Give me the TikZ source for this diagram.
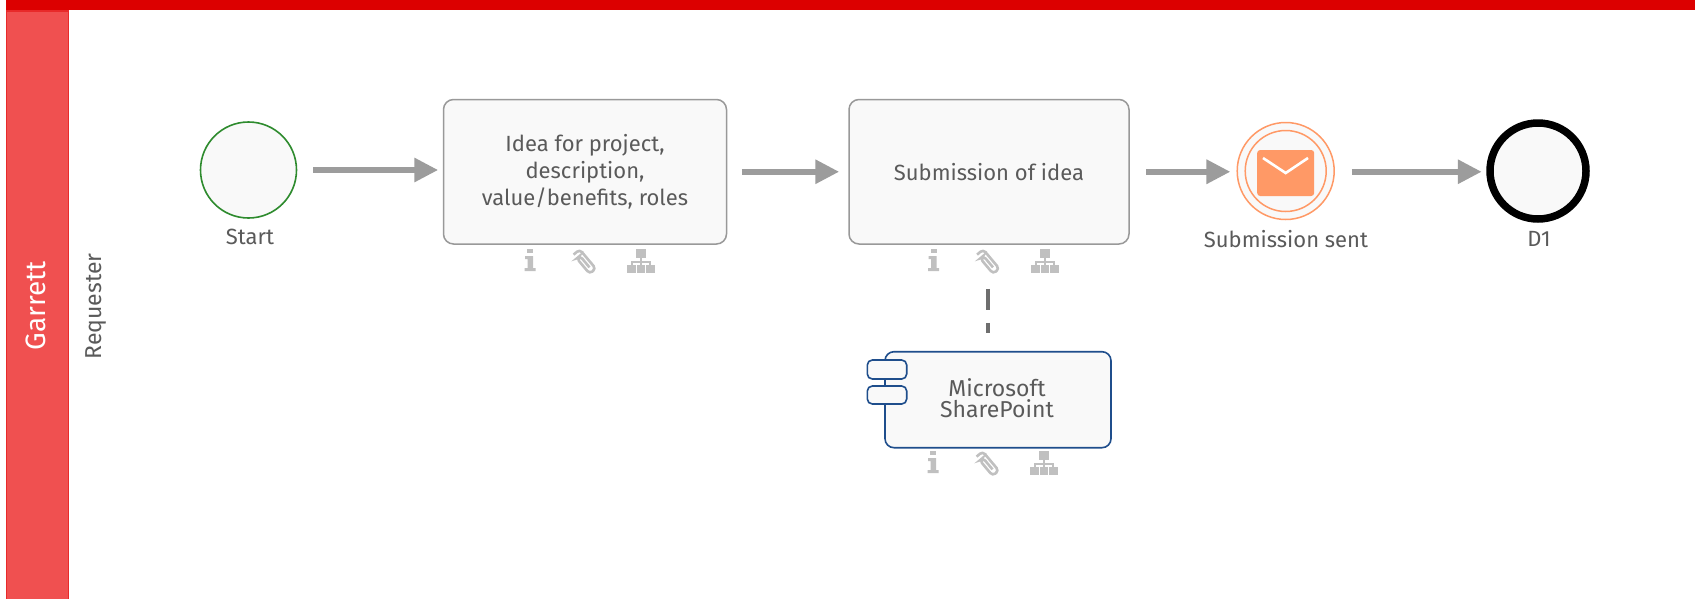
\documentclass[tikz,border=0pt]{standalone}
\usepackage{fontspec}
\setmainfont{Fira Sans}
\usetikzlibrary{arrows.meta}
\definecolor{barred}{HTML}{DC0000}
\definecolor{lanefill}{HTML}{F05050}
\definecolor{laneedge}{HTML}{E82A2A}
\definecolor{flowgrey}{HTML}{9C9C9C}
\definecolor{boxfill}{HTML}{F9F9F9}
\definecolor{boxedge}{HTML}{999999}
\definecolor{txt}{HTML}{5A5A5A}
\definecolor{icongrey}{HTML}{C0C0C0}
\definecolor{startgreen}{HTML}{2E8B2E}
\definecolor{msg}{HTML}{FF9966}
\definecolor{appblue}{HTML}{1F4E8C}
\tikzset{
  x=1pt,y=-1pt,
  lbl/.style={font=\fontsize{22}{27}\selectfont,text=txt,inner sep=0pt,align=center},
  taskbox/.style={draw=boxedge,line width=1.5pt,fill=boxfill,rounded corners=10pt,minimum width=283pt,minimum height=144.5pt,inner sep=0pt,lbl},
  flow/.style={draw=flowgrey,line width=6.5pt,-{Triangle[length=24pt,width=23pt]}},
  evt/.style={circle,inner sep=0pt,fill=boxfill},
  assoc/.style={draw=black!57,line width=4.5pt,dash pattern=on 21pt off 13pt,shorten >=18pt},
  tab/.style={draw=appblue,line width=1.6pt,fill=boxfill,rounded corners=5pt},
  pics/taskicons/.style={code={
    \fill[icongrey] (-3,-14) rectangle (3,-10);
    \fill[icongrey] (-5,-7) -- (3,-7) -- (3,5) -- (5.5,5) -- (5.5,8) -- (-5.5,8) -- (-5.5,5) -- (-2.5,5) -- (-2.5,-4) -- (-5,-4) -- cycle;
    \begin{scope}[shift={(55,-1)},rotate=-50]
      \draw[icongrey,line width=2.6pt,rounded corners=3.5pt] (-13,4) -- (-13,-4) -- (12,-4) -- (12,4) -- (-8,4) -- (-8,0) -- (7,0);
    \end{scope}
    \begin{scope}[shift={(111,0)}]
      \fill[icongrey] (-5,-14) rectangle (5,-5);
      \fill[icongrey] (-1,-5) rectangle (1,-2);
      \fill[icongrey] (-10,-2) rectangle (10,0);
      \fill[icongrey] (-10,0) rectangle (-8,2);
      \fill[icongrey] (8,0) rectangle (10,2);
      \fill[icongrey] (-1,0) rectangle (1,2);
      \fill[icongrey] (-14,2) rectangle (-5,10);
      \fill[icongrey] (-4,2) rectangle (4,10);
      \fill[icongrey] (5,2) rectangle (14,10);
    \end{scope}
  }}
}
\begin{document}
\begin{tikzpicture}
\useasboundingbox (0,0) rectangle (1695,598);
\fill[white] (0,0) rectangle (1695,598);
% top bar and lane header
\fill[barred] (6,0) rectangle (1695,9.5);
\node[draw=laneedge,line width=1.5pt,fill=lanefill,anchor=north west,minimum width=62pt,minimum height=590pt,inner sep=0pt] (lane) at (5.5,10) {};
\node[rotate=90,text=white,font=\fontsize{28}{30}\selectfont,inner sep=0pt] (garrett) at (36,305.5) {Garrett};
\node[rotate=90,lbl,font=\fontsize{23}{25}\selectfont] (role) at (96.5,306.5) {Requester};
% events and tasks
\node[evt,draw=startgreen,line width=1.6pt,minimum size=96pt] (start) at (248.5,170) {};
\node[taskbox] (t1) at (585,171.75) {Idea for project,\\description,\\value/benefits, roles};
\node[taskbox,minimum width=280pt] (t2) at (989,171.75) {Submission of idea};
\node[evt,draw=msg,line width=1.5pt,minimum size=97pt] (send) at (1285.7,171) {};
\node[circle,draw=msg,line width=1.5pt,minimum size=81pt,inner sep=0pt] (sendin) at (send) {};
\node[evt,draw=black,line width=7.5pt,minimum size=96pt] (stop) at (1538,171) {};
% envelope
\node[fill=msg,rounded corners=3pt,minimum width=57pt,minimum height=46pt,inner sep=0pt] (env) at (1285.7,173) {};
\draw[white,line width=2.6pt] (1263,158) -- (1285.7,173) -- (1308,158);
% application
\node[draw=appblue,line width=1.6pt,fill=boxfill,rounded corners=9pt,minimum width=226pt,minimum height=96pt,inner sep=0pt] (app) at (998,399.7) {};
\node[lbl,font=\fontsize{23}{21}\selectfont] (apptext) at (997,398) {Microsoft\\SharePoint};
\draw[tab] (867.3,360) rectangle (906.7,379);
\draw[tab] (867.3,386) rectangle (906.7,404);
\draw[draw=appblue,line width=1.6pt] (885,379) -- (885,386);
% labels
\node[lbl] (l1) at (250,237) {Start};
\node[lbl] (l2) at (1286,239) {Submission sent};
\node[lbl] (l3) at (1539,239) {D1};
% icons
\pic at (530,263) {taskicons};
\pic at (933.5,263) {taskicons};
\pic at (933,465) {taskicons};
% connectors
\draw[flow,shorten <=16pt,shorten >=4.5pt] (start.east) -- (start.east -| t1.west);
\draw[flow,shorten <=14.5pt,shorten >=9pt] (t1.east) -- (t2.west);
\draw[flow,shorten <=16.5pt,shorten >=6pt] (t2.east) -- (t2.east -| send.west);
\draw[flow,shorten <=17pt,shorten >=4.5pt] (t2.east -| send.east) -- (t2.east -| stop.west);
\path (t2.south) ++(-1.2,44) coordinate (assoctop);
\draw[assoc] (assoctop) -- (assoctop |- app.north);
\end{tikzpicture}
\end{document}
